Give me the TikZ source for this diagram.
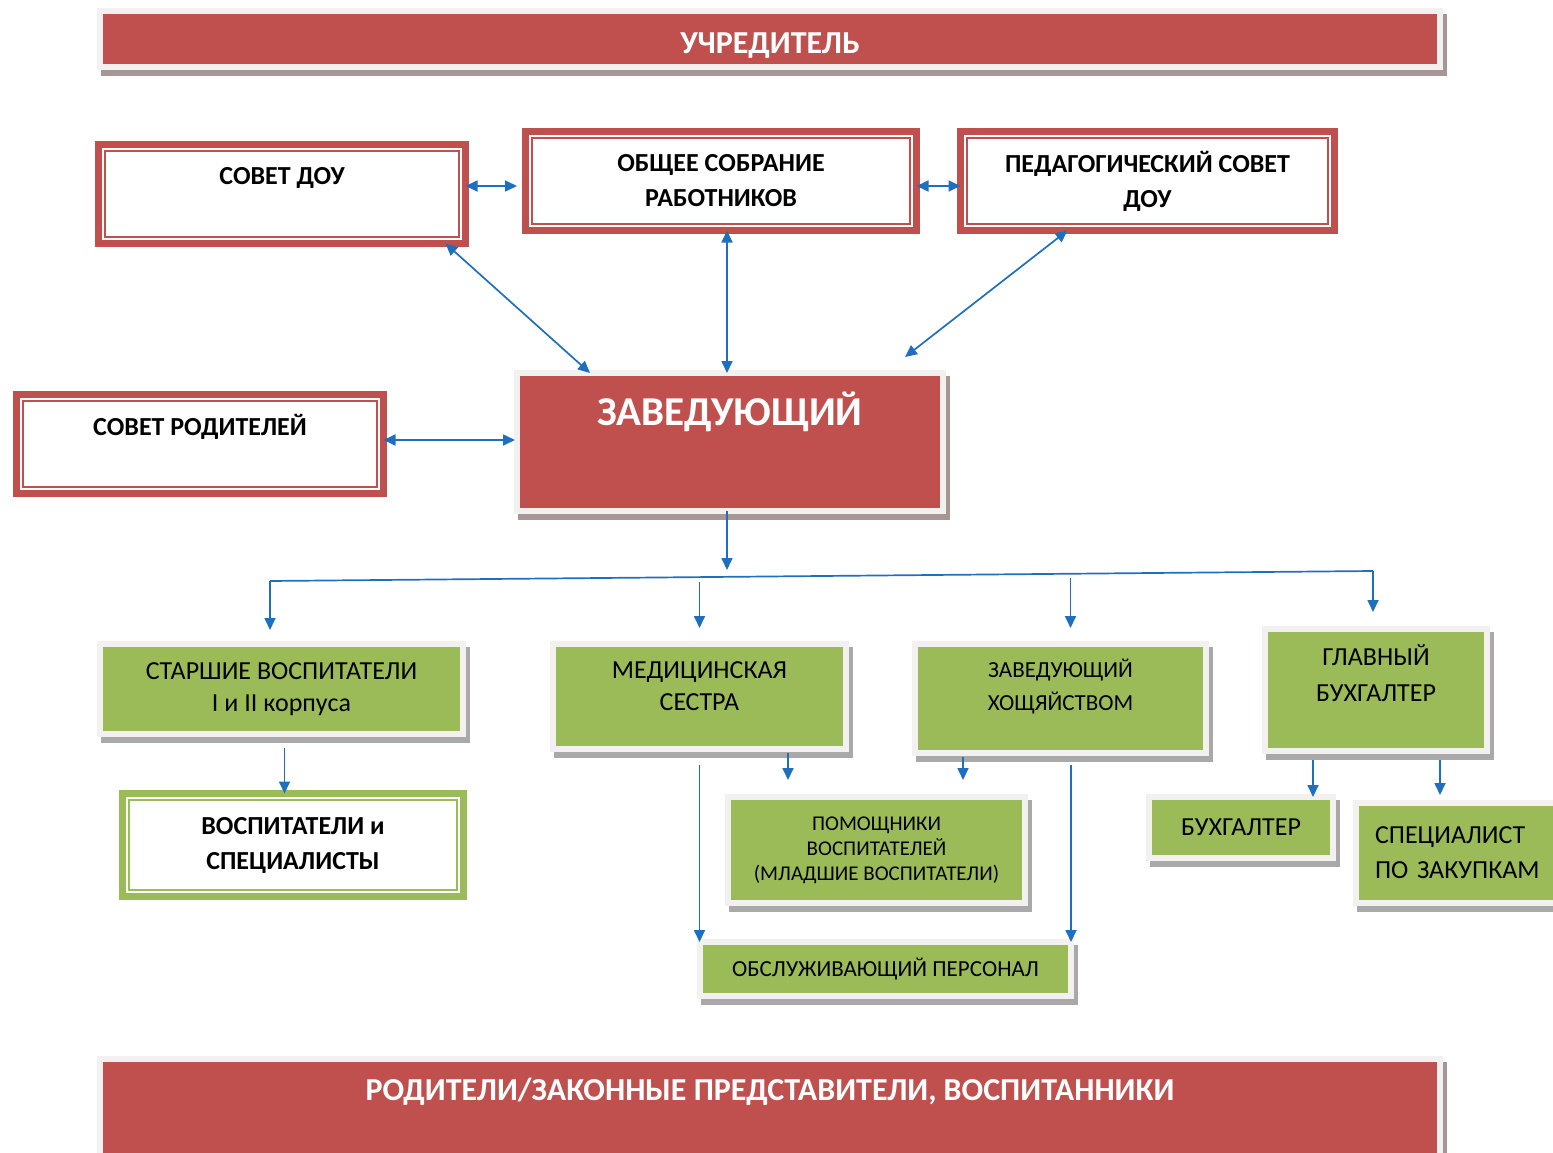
\documentclass[tikz,border=0pt]{standalone}
\usepackage{fontspec}
\setmainfont{Carlito}
\usetikzlibrary{arrows.meta, shadows, positioning}

\definecolor{ured}{HTML}{C0504D}
\definecolor{ugreen}{HTML}{9BBB59}
\definecolor{ublue}{HTML}{1F6FBF}
\definecolor{uframe}{HTML}{F3F0F0}
\definecolor{ushadowr}{HTML}{A89696}
\definecolor{ushadowg}{HTML}{A9A9A9}

\begin{document}
\begin{tikzpicture}[x=1pt, y=-1pt, >={Triangle[length=12pt,width=11pt]},
	link/.style={ublue, line width=1.7pt},
	redbar/.style={fill=ured, draw=uframe, line width=6pt, anchor=north west, inner sep=0pt, outer sep=0pt, text=white,
		drop shadow={shadow xshift=4pt, shadow yshift=-6pt, fill=ushadowr, draw=ushadowr, opacity=1},
		font=\fontsize{32}{36}\selectfont\bfseries},
	redframe/.style={fill=white, draw=ured, line width=7pt, anchor=north west, inner sep=0pt, outer sep=0pt, align=center,
		font=\fontsize{26}{35}\selectfont\bfseries,
		path picture={\draw[ured, line width=2pt] ([shift={(6.5pt,-6.5pt)}]path picture bounding box.north west) rectangle ([shift={(-6.5pt,6.5pt)}]path picture bounding box.south east);}},
	greenframe/.style={redframe, draw=ugreen,
		path picture={\draw[ugreen, line width=2pt] ([shift={(6.5pt,-6.5pt)}]path picture bounding box.north west) rectangle ([shift={(-6.5pt,6.5pt)}]path picture bounding box.south east);}},
	greenbox/.style={fill=ugreen, draw=uframe, line width=6pt, anchor=north west, inner sep=0pt, outer sep=0pt, align=center,
		drop shadow={shadow xshift=4pt, shadow yshift=-6pt, fill=ushadowg, draw=ushadowg, opacity=1},
		font=\fontsize{26}{32}\selectfont},
	smallbox/.style={greenbox, font=\fontsize{21}{25}\selectfont},
	toptext/.style={anchor=north, inner sep=0pt, align=center},
	]
	\useasboundingbox (0,0) rectangle (1553,1153);

	% top and bottom bars
	\node[redbar, minimum width=1340pt, minimum height=56pt, text height=33pt] (founder) at (100,11) {УЧРЕДИТЕЛЬ};
	\node[redbar, minimum width=1340pt, minimum height=101pt, text depth=40pt] (pupils) at (100,1059) {РОДИТЕЛИ/ЗАКОННЫЕ ПРЕДСТАВИТЕЛИ, ВОСПИТАННИКИ};

	% councils
	\node[redframe, minimum width=367pt, minimum height=99pt,
		label={[toptext, yshift=-23pt, font=\fontsize{26}{35}\selectfont\bfseries]north:СОВЕТ ДОУ}] (council) at (98.5,144.5) {};
	\node[redframe, minimum width=391pt, minimum height=99pt] (assembly) at (525.5,131.5) {ОБЩЕЕ СОБРАНИЕ\\РАБОТНИКОВ};
	\node[redframe, minimum width=374pt, minimum height=99pt] (pedcouncil) at (960.5,131.5) {ПЕДАГОГИЧЕСКИЙ СОВЕТ\\ДОУ};
	\node[redframe, minimum width=367pt, minimum height=99pt,
		label={[toptext, yshift=-20pt, font=\fontsize{26}{35}\selectfont\bfseries]north:СОВЕТ РОДИТЕЛЕЙ}] (parents) at (16.5,394.5) {};

	% head
	\node[redbar, minimum width=426pt, minimum height=138pt,
		label={[toptext, yshift=-19pt, text=white, font=\fontsize{41}{44}\selectfont\bfseries]north:ЗАВЕДУЮЩИЙ}] (head) at (517,373) {};

	% staff
	\node[greenbox, minimum width=363pt, minimum height=90pt] (senior) at (100,644) {СТАРШИЕ ВОСПИТАТЕЛИ\\I и II корпуса};
	\node[greenbox, minimum width=293pt, minimum height=105pt,
		label={[inner sep=0pt, align=center, yshift=10pt, font=\fontsize{26}{32}\selectfont]center:МЕДИЦИНСКАЯ\\СЕСТРА}] (nurse) at (553,644) {};
	\node[greenbox, minimum width=291pt, minimum height=109pt,
		label={[inner sep=0pt, align=center, yshift=12pt, font=\fontsize{23}{33}\selectfont]center:ЗАВЕДУЮЩИЙ\\ХОЩЯЙСТВОМ}] (supply) at (915,644) {};
	\node[greenbox, minimum width=222pt, minimum height=122pt,
		label={[toptext, yshift=-15pt, font=\fontsize{26}{36}\selectfont]north:ГЛАВНЫЙ\\БУХГАЛТЕР}] (chiefacc) at (1265,629) {};
	\node[greenframe, minimum width=341pt, minimum height=103pt] (teachers) at (122.5,793.5) {ВОСПИТАТЕЛИ и\\СПЕЦИАЛИСТЫ};
	\node[smallbox, minimum width=297pt, minimum height=106pt] (assistants) at (728,797) {ПОМОЩНИКИ\\ВОСПИТАТЕЛЕЙ\\(МЛАДШИЕ ВОСПИТАТЕЛИ)};
	\node[smallbox, minimum width=371pt, minimum height=54pt, font=\fontsize{23}{25}\selectfont] (service) at (700,942) {ОБСЛУЖИВАЮЩИЙ ПЕРСОНАЛ};
	\node[greenbox, minimum width=184pt, minimum height=61pt] (accountant) at (1149,797) {БУХГАЛТЕР};
	\node[greenbox, minimum width=214pt, minimum height=100pt, align=left, text width=176pt, font=\fontsize{26}{35}\selectfont] (buyer) at (1356,803) {СПЕЦИАЛИСТ\\ПО ЗАКУПКАМ};

	% links between councils and head
	\coordinate (split) at (727,570);
	\draw[link, <->, shorten >=8.5pt] ([yshift=8pt]council.east) -- ([yshift=8pt]council.east -| assembly.west);
	\draw[link, <->] ([yshift=-5pt]assembly.east) -- ([yshift=-5pt]assembly.east -| pedcouncil.west);
	\draw[link, <->] ([xshift=-20pt]council.south east) -- ([xshift=73pt]head.north west);
	\draw[link, <->] (assembly.south -| split) -- (head.north -| split);
	\draw[link, <->] ([xshift=107pt]pedcouncil.south west) -- ([xshift=-38pt, yshift=16pt]head.north east);
	\draw[link, <->, shorten >=2pt] ([yshift=4pt]parents.east) -- ([yshift=4pt]parents.east -| head.west);

	% distribution line
	\coordinate (busL) at (270,581);
	\coordinate (busR) at (1373,571);
	\draw[link, ->] (head.south -| split) -- (split);
	\draw[link] (busL) -- (busR);
	\draw[link, ->, shorten >=14pt] (busL) -- (busL |- senior.north);
	\draw[link, ->, shorten >=17pt] (busR) -- (busR |- chiefacc.north);
	\draw[link, ->] ([yshift=62pt]nurse.north) -- ([yshift=16pt]nurse.north);
	\draw[link, ->] ([xshift=10pt, yshift=66pt]supply.north) -- ([xshift=10pt, yshift=16pt]supply.north);

	% lower links
	\draw[link, ->] ([xshift=3pt, yshift=-14pt]senior.south) -- ([xshift=3pt]senior.south |- teachers.north);
	\draw[link, ->] ([yshift=-16pt]nurse.south) -- (nurse.south |- service.north);
	\draw[link, ->, shorten >=17pt] ([xshift=-58pt, yshift=-4pt]nurse.south east) -- ([xshift=-58pt]nurse.south east |- assistants.north);
	\draw[link, ->, shorten >=17pt] ([xshift=48pt, yshift=-4pt]supply.south west) -- ([xshift=48pt]supply.south west |- assistants.north);
	\draw[link, ->] ([yshift=-12pt]supply.south -| service.north east) -- (service.north east);
	\draw[link, ->] ([xshift=48pt, yshift=-9pt]chiefacc.south west) -- ([xshift=48pt]chiefacc.south west |- accountant.north);
	\draw[link, ->, shorten >=8pt] ([xshift=175pt, yshift=-9pt]chiefacc.south west) -- ([xshift=175pt]chiefacc.south west |- buyer.north);
\end{tikzpicture}
\end{document}
